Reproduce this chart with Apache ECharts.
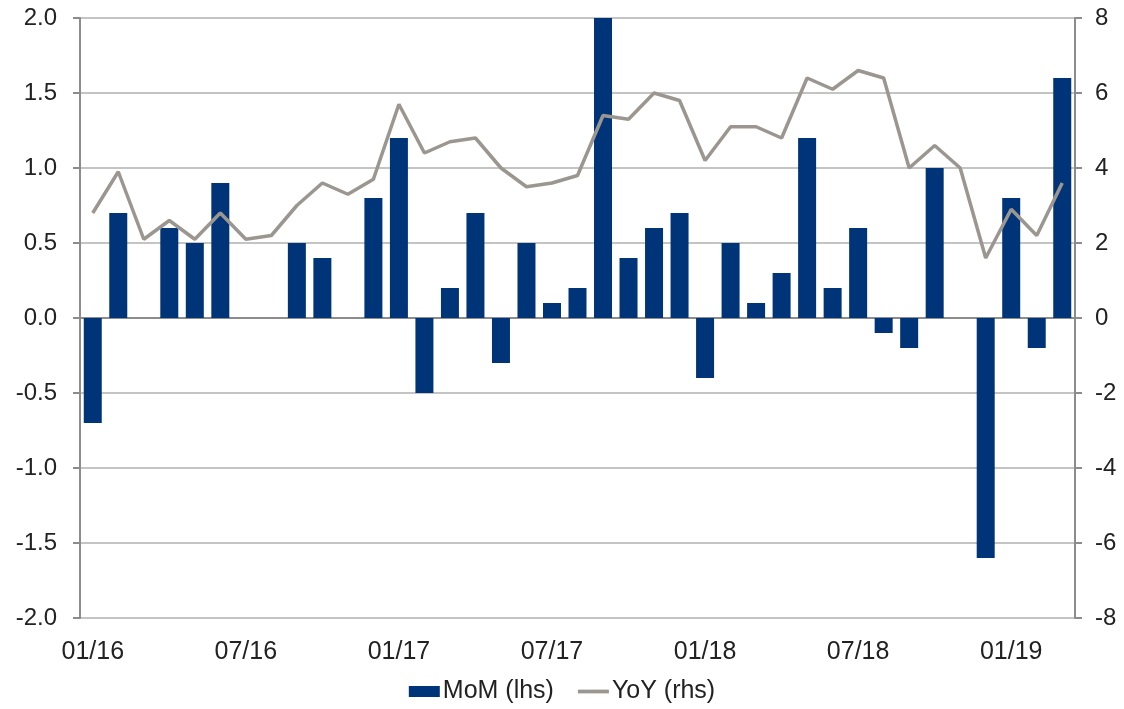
<!DOCTYPE html>
<html lang="en">
<head>
    <meta charset="UTF-8">
    <title>MoM / YoY</title>
    <script src="https://cdn.jsdelivr.net/npm/echarts@6/dist/echarts.min.js"></script>
    <style>
        html, body { margin: 0; padding: 0; background: #fff; }
        #chart { width: 1124px; height: 709px; }
    </style>
</head>
<body>
<div id="chart"></div>
<script type="text/javascript">
    // monthly, 01/16 .. 03/19
    const months = [
        '01/16', '02/16', '03/16', '04/16', '05/16', '06/16', '07/16', '08/16', '09/16', '10/16', '11/16', '12/16',
        '01/17', '02/17', '03/17', '04/17', '05/17', '06/17', '07/17', '08/17', '09/17', '10/17', '11/17', '12/17',
        '01/18', '02/18', '03/18', '04/18', '05/18', '06/18', '07/18', '08/18', '09/18', '10/18', '11/18', '12/18',
        '01/19', '02/19', '03/19'
    ];
    const mom = [
        -0.7, 0.7, 0, 0.6, 0.5, 0.9, 0, 0, 0.5, 0.4, 0, 0.8,
        1.2, -0.5, 0.2, 0.7, -0.3, 0.5, 0.1, 0.2, 2.0, 0.4, 0.6, 0.7,
        -0.4, 0.5, 0.1, 0.3, 1.2, 0.2, 0.6, -0.1, -0.2, 1.0, 0, -1.6,
        0.8, -0.2, 1.6
    ];
    const yoy = [
        2.8, 3.9, 2.1, 2.6, 2.1, 2.8, 2.1, 2.2, 3.0, 3.6, 3.3, 3.7,
        5.7, 4.4, 4.7, 4.8, 4.0, 3.5, 3.6, 3.8, 5.4, 5.3, 6.0, 5.8,
        4.2, 5.1, 5.1, 4.8, 6.4, 6.1, 6.6, 6.4, 4.0, 4.6, 4.0, 1.6,
        2.9, 2.2, 3.6
    ];

    const font = 'Liberation Sans, Arial, sans-serif';
    const axisGray = '#8c8c8c';
    const gridGray = '#c4c4c4';
    const lineGray = '#9b968f';

    let chart = echarts.init(document.getElementById('chart'));
    chart.setOption({
        animation: false,
        textStyle: { fontFamily: font },
        grid: { left: 80, right: 49, top: 18, bottom: 91 },
        legend: {
            bottom: 0,
            left: 'center',
            itemGap: 24,
            itemWidth: 31,
            itemHeight: 11,
            textStyle: { fontSize: 25, color: '#222', fontFamily: font, padding: [0, 0, 0, -2] },
            data: [
                { name: 'MoM (lhs)', icon: 'rect' },
                { name: 'YoY (rhs)', icon: 'path://M0 0H33V4H0Z', itemStyle: { color: lineGray } }
            ]
        },
        xAxis: [
            {
                type: 'category',
                data: months,
                position: 'bottom',
                axisLine: { onZero: false, show: false },
                axisTick: { show: false },
                axisLabel: {
                    interval: 5,
                    fontSize: 25,
                    color: '#222',
                    margin: 22
                }
            },
            {
                type: 'category',
                data: months,
                position: 'bottom',
                axisLine: { onZero: true, onZeroAxisIndex: 0, lineStyle: { color: axisGray, width: 2 } },
                axisTick: { interval: 5, length: 6, lineStyle: { color: axisGray, width: 2 } },
                axisLabel: { show: false }
            }
        ],
        yAxis: [
            {
                type: 'value',
                min: -2,
                max: 2,
                interval: 0.5,
                axisLine: { show: true, lineStyle: { color: axisGray, width: 2 } },
                axisTick: { show: true, length: 7, lineStyle: { color: axisGray, width: 2 } },
                axisLabel: {
                    fontSize: 24,
                    color: '#222',
                    margin: 23,
                    formatter: v => v.toFixed(1)
                },
                splitLine: { lineStyle: { color: gridGray, width: 2 } }
            },
            {
                type: 'value',
                min: -8,
                max: 8,
                interval: 2,
                position: 'right',
                axisLine: { show: true, lineStyle: { color: axisGray, width: 2 } },
                axisTick: { show: true, length: 7, lineStyle: { color: axisGray, width: 2 } },
                axisLabel: { fontSize: 24, color: '#222', margin: 20 },
                splitLine: { show: false }
            }
        ],
        series: [
            {
                name: 'MoM (lhs)',
                type: 'bar',
                xAxisIndex: 0,
                yAxisIndex: 0,
                barWidth: 18,
                itemStyle: { color: '#003478' },
                data: mom
            },
            {
                name: 'YoY (rhs)',
                type: 'line',
                xAxisIndex: 0,
                yAxisIndex: 1,
                symbol: 'none',
                lineStyle: { color: lineGray, width: 3.5 },
                itemStyle: { color: lineGray },
                data: yoy
            }
        ]
    });
</script>
</body>
</html>
